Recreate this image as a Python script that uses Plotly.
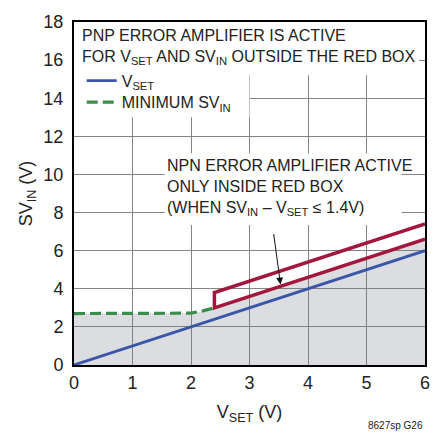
import plotly.graph_objects as go

# ---- data ----
vset_x = [0, 6]
vset_y = [0, 6]
min_svin_x = [0, 2.0, 2.2, 2.4]
min_svin_y = [2.7, 2.72, 2.84, 3.0]
box_x = [6, 2.4, 2.4, 6]
box_y = [7.4, 3.8, 3.0, 6.6]
x_ticks = [0, 1, 2, 3, 4, 5, 6]
y_ticks = [0, 2, 4, 6, 8, 10, 12, 14, 16, 18]

FONT = "Liberation Sans Narrow, Arial Narrow, Liberation Sans, sans-serif"
BLUE = "#3b56a8"
GREEN = "#3d8b4e"
RED = "#a3173c"
TXT = "#222"

fig = go.Figure()

# gray shaded region (under minimum SVin, then under bottom of red box)
fill_x = min_svin_x + [box_x[3]]
fill_y = min_svin_y + [box_y[3]]
fig.add_trace(go.Scatter(x=fill_x, y=fill_y, mode="lines", line=dict(width=0),
                         fill="tozeroy", fillcolor="rgba(120,124,134,0.26)",
                         showlegend=False, hoverinfo="skip"))

fig.add_trace(go.Scatter(x=box_x, y=box_y, mode="lines",
                         line=dict(color=RED, width=3.5), showlegend=False))
fig.add_trace(go.Scatter(x=vset_x, y=vset_y, mode="lines", name="V<sub>SET</sub>",
                         line=dict(color=BLUE, width=2.8), legend="legend"))
fig.add_trace(go.Scatter(x=min_svin_x, y=min_svin_y, mode="lines", name="MINIMUM SV<sub>IN</sub>",
                         line=dict(color=GREEN, width=3.2, dash="11px,5px"), legend="legend2"))

# white masks over gridlines behind text
masks = [
    (0, 5.9, 15.2, 18),
    (0, 3.0, 13.0, 15.2),
    (1.55, 5.6, 7.35, 11.1),
]
for x0, x1, y0, y1 in masks:
    fig.add_shape(type="rect", x0=x0, x1=x1, y0=y0, y1=y1, xref="x", yref="y",
                  fillcolor="white", line=dict(width=0), layer="between")

fig.add_annotation(x=0.1, y=17.85, xref="x", yref="y", xanchor="left", yanchor="top",
                   align="left", showarrow=False,
                   text="PNP ERROR AMPLIFIER IS ACTIVE<br>FOR V<sub>SET</sub> AND SV<sub>IN</sub> OUTSIDE THE RED BOX",
                   font=dict(family=FONT, size=16, color=TXT))
fig.add_annotation(x=1.56, y=11.0, xref="x", yref="y", xanchor="left", yanchor="top",
                   align="left", showarrow=False,
                   text="NPN ERROR AMPLIFIER ACTIVE<br>ONLY INSIDE RED BOX<br>(WHEN SV<sub>IN</sub> – V<sub>SET</sub> ≤ 1.4V)",
                   font=dict(family=FONT, size=16, color=TXT))
fig.add_annotation(x=3.53, y=4.22, ax=3.41, ay=6.95, xref="x", yref="y", axref="x", ayref="y",
                   showarrow=True, arrowhead=2, arrowsize=1.4, arrowwidth=1, arrowcolor="#111",
                   text="")
fig.add_annotation(x=1.0, y=-0.175, xref="paper", yref="paper", xanchor="right", yanchor="middle",
                   showarrow=False, text="8627sp G26",
                   font=dict(family=FONT, size=10, color=TXT))

axis_common = dict(showline=True, linecolor="black", linewidth=2, mirror=True,
                   showgrid=True, gridcolor="#848484", gridwidth=1.4, zeroline=False,
                   ticks="", tickfont=dict(family=FONT, size=18, color=TXT))
fig.update_xaxes(range=[0, 6], tickvals=x_ticks, ticktext=[str(v) for v in x_ticks],
                 title=dict(text="V<sub>SET</sub> (V)", font=dict(family=FONT, size=18, color=TXT), standoff=14),
                 **axis_common)
fig.update_yaxes(range=[0, 18], tickvals=y_ticks, ticktext=[str(v) for v in y_ticks],
                 ticklabelstandoff=5,
                 title=dict(text="SV<sub>IN</sub> (V)", font=dict(family=FONT, size=18, color=TXT), standoff=6),
                 **axis_common)

legend_common = dict(xanchor="left", yanchor="middle", bgcolor="rgba(0,0,0,0)",
                     font=dict(family=FONT, size=16, color=TXT), borderwidth=0)
fig.update_layout(width=442, height=435, margin=dict(l=74, r=16, t=14, b=70),
                  plot_bgcolor="white", paper_bgcolor="white",
                  showlegend=True,
                  legend=dict(x=0.022, y=0.829, **legend_common),
                  legend2=dict(x=0.022, y=0.766, **legend_common))

fig.write_html("out.html", config={"displayModeBar": False},
               post_script="document.body.style.margin='0px';")
